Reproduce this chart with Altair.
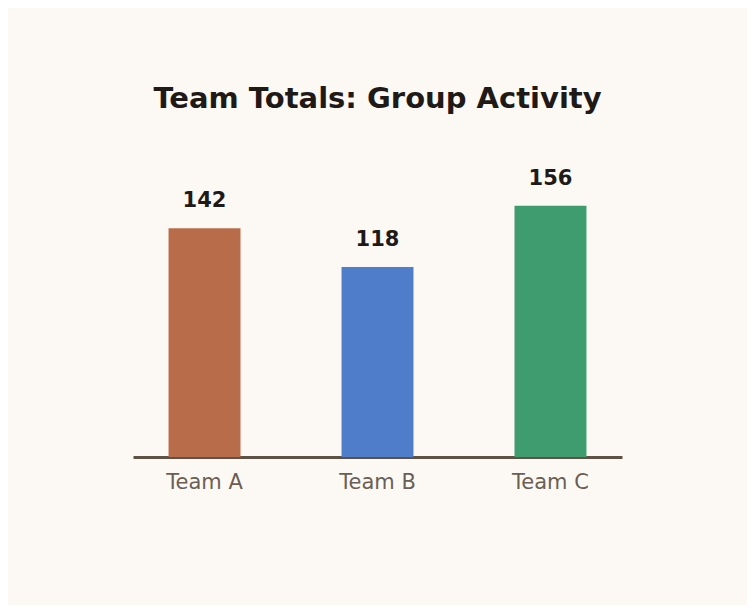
import altair as alt
import pandas as pd

teams = ["Team A", "Team B", "Team C"]
totals = [142, 118, 156]
colors = ["#b86c4a", "#4f7dc9", "#3f9c6f"]

df = pd.DataFrame({"team": teams, "total": totals, "color": colors})

x = alt.X("team:N", sort=teams, title=None,
          scale=alt.Scale(paddingInner=0.584, paddingOuter=0.2055),
          axis=alt.Axis(labelAngle=0, labelFontSize=21, labelColor="#6b5f55",
                        labelFont="DejaVu Sans", labelPadding=14, ticks=False,
                        domainColor="#5e5247", domainWidth=3, grid=False))
y = alt.Y("total:Q", scale=alt.Scale(domain=[0, 180]), axis=None)

bars = alt.Chart(df).mark_bar().encode(
    x=x, y=y, color=alt.Color("color:N", scale=None)
)
labels = alt.Chart(df).mark_text(
    baseline="alphabetic", dy=-21, fontSize=21, fontWeight="bold",
    font="DejaVu Sans", color="#1f1a17"
).encode(x=alt.X("team:N", sort=teams), y="total:Q", text="total:Q")

chart = alt.layer(bars, labels).properties(
    width=489, height=290,
    background="#fcf9f4",
    autosize=alt.AutoSizeParams(type="none"),
    padding={"left": 125, "top": 159, "right": 125, "bottom": 148},
    title=alt.TitleParams("Team Totals: Group Activity", fontSize=29,
                          fontWeight="bold", font="DejaVu Sans",
                          color="#1f1a17", anchor="middle", offset=53),
).configure_view(stroke=None)

chart.save("out.html", embed_options={"renderer": "svg", "actions": False})
